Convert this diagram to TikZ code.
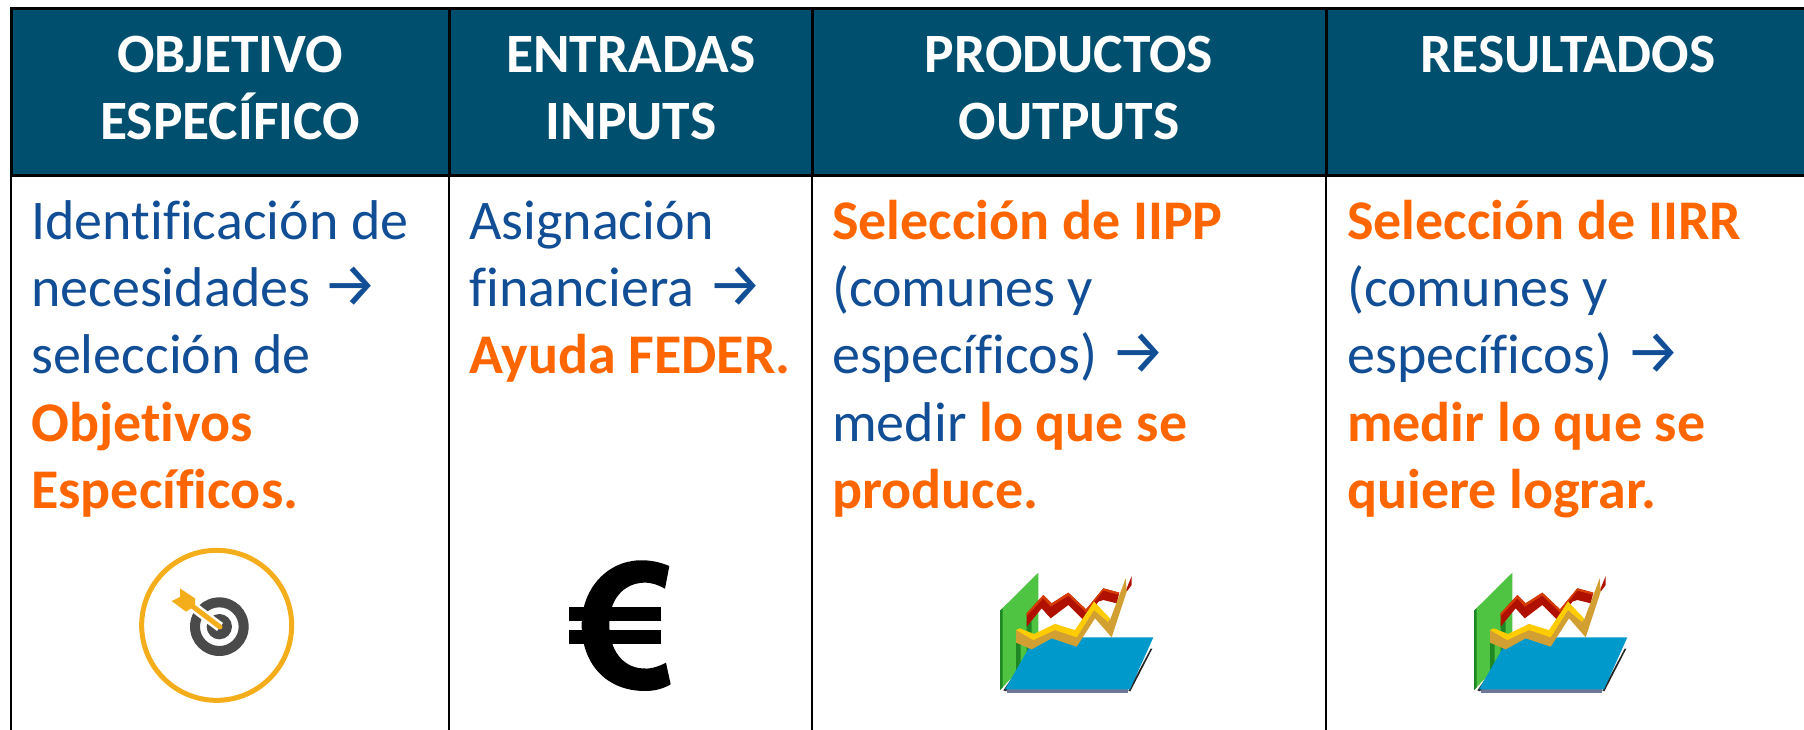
\documentclass[tikz,border=0pt]{standalone}
\usepackage{fontspec}
\setmainfont{Carlito}[RawFeature={-liga}]
\newfontfamily\arrowfont{Fira Sans}
\definecolor{headblue}{RGB}{0,79,110}
\definecolor{txtblue}{RGB}{17,78,150}
\definecolor{accent}{RGB}{255,102,0}
\definecolor{amber}{RGB}{245,174,27}
\definecolor{targetgrey}{RGB}{74,74,74}
\definecolor{cgreen}{RGB}{78,196,66}
\definecolor{cgreendk}{RGB}{30,135,35}
\definecolor{cslate}{RGB}{110,120,150}
\definecolor{cblue}{RGB}{0,153,204}
\definecolor{credA}{RGB}{176,16,0}
\definecolor{credB}{RGB}{214,60,0}
\definecolor{cgold}{RGB}{210,160,50}
\definecolor{cyell}{RGB}{255,204,0}
\newcommand{\ar}{{\fontsize{62}{67.3}\arrowfont\char"2192}}
\newcommand{\hi}[1]{\textcolor{accent}{\bfseries #1}}
\tikzset{
  headcell/.style={draw=black,line width=3pt,fill=headblue,inner sep=0pt,outer sep=0pt,anchor=north west},
  headtext/.style={text=white,font=\fontsize{55.5}{66.7}\selectfont\bfseries,align=center,inner sep=0pt,anchor=north},
  bodycell/.style={draw=black,line width=2.5pt,fill=white,inner sep=0pt,outer sep=0pt,anchor=north west},
  bodytext/.style={text=txtblue,font=\fontsize{56}{67.3}\selectfont,align=left,inner sep=0pt,anchor=north west},
  chartpic/.pic={
    \fill[cgreen] (120,182)--(235,68)--(235,300)--(120,420)--cycle;
    \fill[cgreendk] (120,182)--(128,175)--(128,412)--(120,420)--cycle;
    \fill[cgreendk] (168,270)--(182,270)--(182,350)--(168,365)--cycle;
    \fill[cgreendk] (200,215)--(215,215)--(215,300)--(200,320)--cycle;
    \fill[cslate] (140,418)--(505,418)--(505,428)--(140,428)--cycle;
    \fill[black!85] (130,421)--(222,290)--(226,300)--(138,424)--cycle;
    \fill[black!85] (505,422)--(572,296)--(577,296)--(511,424)--cycle;
    \fill[cblue] (225,262)--(580,262)--(510,418)--(135,418)--cycle;
    \fill[credA] (200,190)--(250,135)--(275,160)--(325,128)--(378,178)--(430,115)--(478,128)--(470,160)--(430,150)--(415,155)--(375,215)--(325,165)--(272,205)--(245,175)--(200,230)--cycle;
    \fill[credB] (200,190)--(250,135)--(275,160)--(325,128)--(378,178)--(430,115)--(478,128)--(475,134)--(430,122)--(378,187)--(325,137)--(272,170)--(250,145)--(200,198)--cycle;
    \fill[credA] (498,120)--(515,78)--(515,105)--(500,125)--cycle;
    \fill[cgold] (497,85)--(500,125)--(455,262)--(405,205)--(350,290)--(275,265)--(215,298)--(168,278)--(168,240)--(220,258)--(285,222)--(345,245)--(402,155)--(450,210)--cycle;
    \fill[cyell] (168,240)--(180,235)--(222,252)--(285,222)--(345,240)--(402,155)--(450,205)--(444,216)--(402,180)--(350,262)--(285,240)--(220,270)--cycle;
  },
  europic/.pic={
    \fill[black] (388,75) .. controls (340,55) and (290,52) .. (245,68) .. controls (170,95) and (125,170) .. (125,250) .. controls (125,370) and (200,450) .. (315,450) .. controls (345,450) and (370,443) .. (392,430) -- (378,365) .. controls (350,380) and (325,385) .. (305,382) .. controls (250,378) and (208,330) .. (208,250) .. controls (208,175) and (250,128) .. (310,125) .. controls (335,124) and (355,132) .. (375,143) -- cycle;
    \fill[black] (88,198) rectangle (362,240);
    \fill[black] (88,266) rectangle (362,308);
  },
  targetpic/.pic={
    \draw[amber,line width=5pt] (350,313) circle (225);
    \fill[targetgrey,even odd rule] (358,317) circle (88) (358,317) circle (58);
    \fill[targetgrey] (358,317) circle (38);
    \draw[white,line width=10pt] (360,318) -- (278,256);
    \draw[amber,line width=5pt,line cap=round] (360,318) -- (270,250);
    \fill[amber] (240,202)--(285,232)--(285,255)--(258,272)--(215,240)--(240,228)--cycle;
  }
}
\begin{document}
\begin{tikzpicture}[x=1pt,y=-1pt]
\useasboundingbox (0,0) rectangle (1804,730);
\clip (0,0) rectangle (1804,730);
% body cells
\node[bodycell,minimum width=438pt,minimum height=600pt] (b1) at (11,176) {};
\node[bodycell,minimum width=363pt,minimum height=600pt] (b2) at (449,176) {};
\node[bodycell,minimum width=514pt,minimum height=600pt] (b3) at (812,176) {};
\node[bodycell,minimum width=500pt,minimum height=600pt] (b4) at (1326,176) {};
% header cells
\node[headcell,minimum width=438pt,minimum height=167pt] (h1) at (11,9) {};
\node[headcell,minimum width=363pt,minimum height=167pt] (h2) at (449,9) {};
\node[headcell,minimum width=514pt,minimum height=167pt] (h3) at (812,9) {};
\node[headcell,minimum width=500pt,minimum height=167pt] (h4) at (1326,9) {};
\node[headtext] (l1) at (230,26) {\strut OBJETIVO\\ESPECÍFICO};
\node[headtext] (l2) at (631,26) {\strut ENTRADAS\\INPUTS};
\node[headtext] (l3) at (1069,26) {\strut PRODUCTOS\\OUTPUTS};
\node[headtext] (l4) at (1568,26) {\strut RESULTADOS};
% body text
\node[bodytext] (t1) at (31,192) {\strut Identificación de\\necesidades \ar\\selección de\\\hi{Objetivos}\\\hi{Específicos.}};
\node[bodytext] (t2) at (469,192) {\strut Asignación\\financiera \ar\\\hi{Ayuda FEDER.}};
\node[bodytext] (t3) at (832,192) {\strut\hi{Selección de IIPP}\\(comunes y\\específicos) \ar\\medir \hi{lo que se}\\\hi{produce.}};
\node[bodytext] (t4) at (1347,192) {\strut\hi{Selección de IIRR}\\(comunes y\\específicos) \ar\\\hi{medir lo que se}\\\hi{quiere lograr.}};
% icons
\pic[shift={(100,521)},scale=1/3] {targetpic};
\pic[shift={(540,541)},scale=1/3] {europic};
\pic[shift={(960,550)},scale=1/3] {chartpic};
\pic[shift={(1434,550)},scale=1/3] {chartpic};
\end{tikzpicture}
\end{document}
